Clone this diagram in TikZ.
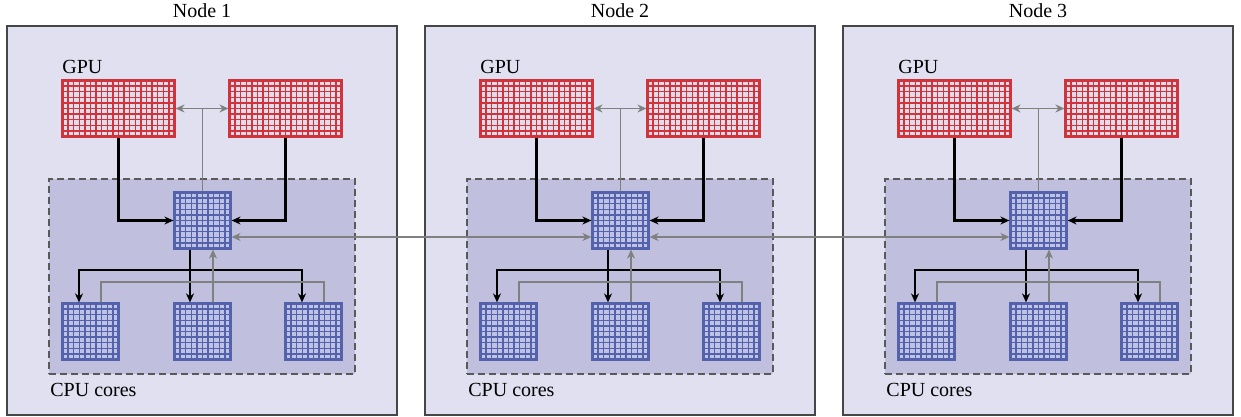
\documentclass[tikz,border=0pt]{standalone}
\usepackage{fontspec}
\setmainfont{Liberation Serif}
\usetikzlibrary{calc,arrows.meta}
\definecolor{nodebg}{RGB}{224,224,240}
\definecolor{nodeedge}{RGB}{70,70,70}
\definecolor{cpubg}{RGB}{192,192,222}
\definecolor{gpured}{RGB}{210,50,58}
\definecolor{gpucell}{RGB}{226,220,234}
\definecolor{cpublue}{RGB}{84,98,172}
\definecolor{cpucell}{RGB}{190,195,230}
\definecolor{linkgray}{RGB}{128,128,128}
\tikzset{
  machine/.style={draw=nodeedge, fill=nodebg, line width=0.7pt, minimum width=195pt, minimum height=194.5pt, inner sep=0pt},
  corezone/.style={draw=nodeedge!90, fill=cpubg, dashed, dash pattern=on 3.5pt off 2pt, line width=0.6pt, minimum width=153pt, minimum height=97.5pt, inner sep=0pt},
  chip/.style n args={5}{draw=#1, fill=#2, line width=1.1pt, inner sep=0pt,
    minimum width=#4, minimum height=#5,
    path picture={
      \foreach \k in {1,...,#3} {
        \draw[#1, line width=0.65pt]
          ($(path picture bounding box.south west)!{\k/#3}!(path picture bounding box.south east)$) --
          ($(path picture bounding box.north west)!{\k/#3}!(path picture bounding box.north east)$);
      }
      \foreach \k in {1,...,10} {
        \draw[#1, line width=0.65pt]
          ($(path picture bounding box.south west)!{\k/10}!(path picture bounding box.north west)$) --
          ($(path picture bounding box.south east)!{\k/10}!(path picture bounding box.north east)$);
      }
    }},
  gpuchip/.style={chip={gpured}{gpucell}{20}{56pt}{28pt}},
  cpuchip/.style={chip={cpublue}{cpucell}{10}{28pt}{28pt}},
  blk/.style={draw=black, line width=1.05pt, -{Stealth[length=4.5pt,width=4pt]}},
  blkboth/.style={draw=black, line width=1.05pt, {Stealth[length=4.5pt,width=4pt]}-{Stealth[length=4.5pt,width=4pt]}},
  gry/.style={draw=linkgray, line width=0.95pt},
  gryarrow/.style={draw=linkgray, line width=0.95pt, -{Stealth[length=4.5pt,width=4pt]}},
  gryboth/.style={draw=linkgray, line width=0.95pt, {Stealth[length=4.5pt,width=4pt]}-{Stealth[length=4.5pt,width=4pt]}},
  lbl/.style={inner sep=0pt, font=\fontsize{10}{12}\selectfont},
}
\begin{document}
\begin{tikzpicture}[x=0.5pt, y=-0.5pt]
\useasboundingbox (0,0) rectangle (1241,417);
\foreach \n in {1,2,3} {
  \begin{scope}[shift={({(\n-1)*418},0)}]
    \node[machine, label={[lbl, yshift=3.5pt]above:Node \n}] (box\n) at (202,220.5) {};
    \node[corezone] (zone\n) at (202,276.5) {};
    \node[lbl, anchor=base west] (gpulabel\n) at (62,74) {GPU};
    \node[lbl, anchor=base west] (cpulabel\n) at (50,396) {CPU cores};
    \node[gpuchip] (ga\n) at (118.5,108.5) {};
    \node[gpuchip] (gb\n) at (285.5,108.5) {};
    \node[cpuchip] (c\n) at (202.5,220.5) {};
    \node[cpuchip] (ka\n) at (90.5,331.5) {};
    \node[cpuchip] (kb\n) at (202.5,331.5) {};
    \node[cpuchip] (kc\n) at (313.5,331.5) {};
    % GPU -> CPU
    \draw[blk] (ga\n.south) |- (c\n.west);
    \draw[blk] (gb\n.south) |- (c\n.east);
    % CPU <-> GPUs
    \draw[gry] (c\n.north) -- (c\n.north |- ga\n.east);
    \draw[gryboth] (ga\n.east) -- (gb\n.west);
    % CPU -> cores
    \draw[blk] ($(c\n.south)+(-12.5,0)$) -- ($(kb\n.north)+(-12.5,0)$);
    \draw[blkboth] ($(ka\n.north)+(-11.5,0)$) |- ($(kc\n.north)+(-11.5,-32)$) -- ($(kc\n.north)+(-11.5,0)$);
    % cores -> CPU
    \draw[gry] ($(ka\n.north)+(10.5,0)$) |- ($(kc\n.north)+(10.5,-20)$) -- ($(kc\n.north)+(10.5,0)$);
    \draw[gryarrow] ($(kb\n.north)+(10.5,0)$) -- ($(c\n.south)+(10.5,0)$);
  \end{scope}
}
\draw[gryboth] ($(c1.east)+(0,16.5)$) -- ($(c2.west)+(0,16.5)$);
\draw[gryboth] ($(c2.east)+(0,16.5)$) -- ($(c3.west)+(0,16.5)$);
\end{tikzpicture}
\end{document}
